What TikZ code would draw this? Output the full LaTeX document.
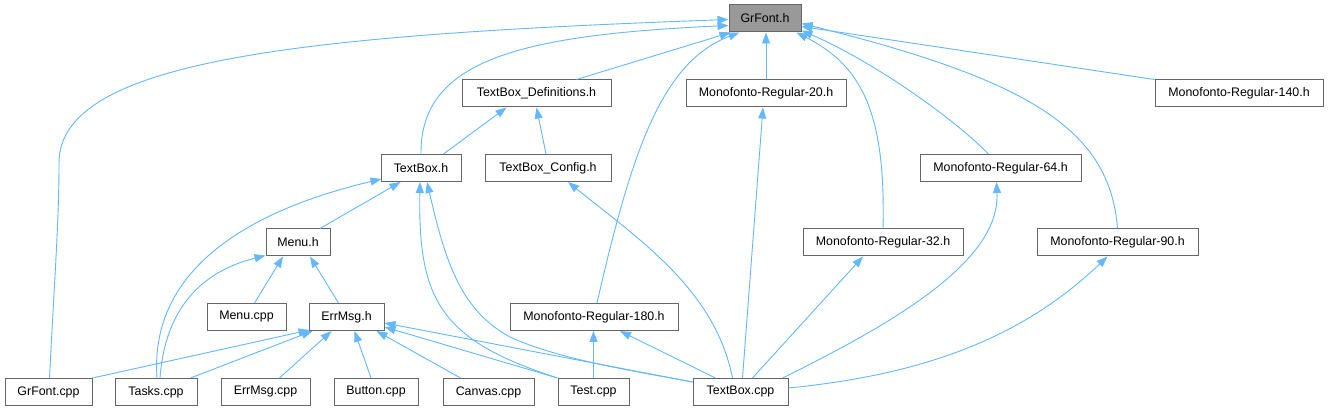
\documentclass[tikz,border=0pt]{standalone}
\usepackage{fontspec}
\setmainfont{Liberation Sans}
\usepackage{tikz}
\usetikzlibrary{arrows.meta, positioning, calc}
\definecolor{boxgray}{RGB}{102,102,102}
\definecolor{maingray}{RGB}{153,153,153}
\definecolor{deplink}{RGB}{99,184,255}
\tikzset{
  filebox/.style={rectangle, draw=boxgray, fill=white, line width=1pt,
                  minimum height=27pt, inner sep=0pt,
                  font=\fontsize{12.4}{14}\selectfont},
  mainbox/.style={filebox, fill=maingray},
  dep/.style={draw=deplink, line width=0.9pt,
              -{Triangle[length=11pt, width=8pt, fill=deplink]}},
}
\begin{document}
\begin{tikzpicture}[x=1pt, y=-1pt]
  \useasboundingbox[fill=white] (0,0) rectangle (1328,411);

  % header files
  \node[mainbox, minimum width=72]  (grfonth)  at (765,18.5)   {GrFont.h};
  \node[filebox, minimum width=149] (tbdef)    at (536.5,93.5) {TextBox\_Definitions.h};
  \node[filebox, minimum width=160] (mono20)   at (766,93.5)   {Monofonto-Regular-20.h};
  \node[filebox, minimum width=168] (mono140)  at (1239,93.5)  {Monofonto-Regular-140.h};
  \node[filebox, minimum width=80]  (textboxh) at (421,168)    {TextBox.h};
  \node[filebox, minimum width=126] (tbconf)   at (548,168)    {TextBox\_Config.h};
  \node[filebox, minimum width=161] (mono64)   at (1000.5,168) {Monofonto-Regular-64.h};
  \node[filebox, minimum width=64]  (menuh)    at (298,242.5)  {Menu.h};
  \node[filebox, minimum width=160] (mono32)   at (883,242.5)  {Monofonto-Regular-32.h};
  \node[filebox, minimum width=161] (mono90)   at (1117.5,242.5) {Monofonto-Regular-90.h};
  \node[filebox, minimum width=79]  (menucpp)  at (246.5,317)  {Menu.cpp};
  \node[filebox, minimum width=75]  (errmsgh)  at (346.5,317)  {ErrMsg.h};
  \node[filebox, minimum width=168] (mono180)  at (594,317)    {Monofonto-Regular-180.h};

  % source files
  \node[filebox, minimum width=87]  (grfontcpp)  at (48.5,392)  {GrFont.cpp};
  \node[filebox, minimum width=82]  (taskscpp)   at (156,392)   {Tasks.cpp};
  \node[filebox, minimum width=89]  (errmsgcpp)  at (265.5,392) {ErrMsg.cpp};
  \node[filebox, minimum width=84]  (buttoncpp)  at (376,392)   {Button.cpp};
  \node[filebox, minimum width=91]  (canvascpp)  at (488.5,392) {Canvas.cpp};
  \node[filebox, minimum width=71]  (testcpp)    at (593.5,392) {Test.cpp};
  \node[filebox, minimum width=95]  (textboxcpp) at (740.5,392) {TextBox.cpp};

  % into GrFont.h
  \draw[dep] ($(grfontcpp.north)+(1,0)$) .. controls (55,270) and (59,220) .. (59,163)
             .. controls (59,60) and (300,35) .. ($(grfonth.west)+(0,1)$);
  \draw[dep] (textboxh.north) .. controls (420,60) and (520,35) .. ($(grfonth.west)+(0,7)$);
  \draw[dep] ($(tbdef.north)+(40,0)$) -- ($(grfonth.south west)+(2,0)$);
  \draw[dep] ($(mono180.north)+(3,0)$) .. controls (632,150) and (662,62) .. ($(grfonth.south west)+(11,0)$);
  \draw[dep] (mono20.north) -- (mono20.north |- grfonth.south);
  \draw[dep] (mono32.north) .. controls (886,110) and (860,65) .. ($(grfonth.south east)+(-5,0)$);
  \draw[dep] ($(mono64.north)+(-12,0)$) .. controls (950,115) and (870,60) .. ($(grfonth.south east)+(0,-2)$);
  \draw[dep] (mono90.north) .. controls (1110,130) and (1030,80) .. ($(grfonth.east)+(0,5)$);
  \draw[dep] (mono140.north west) -- ($(grfonth.east)+(0,8)$);

  % into TextBox_Definitions.h
  \draw[dep] ($(textboxh.north east)+(-18,0)$) -- ($(tbdef.south)+(-30,0)$);
  \draw[dep] ($(tbconf.north)+(-2,0)$) -- (tbdef.south);

  % into TextBox.h
  \draw[dep] ($(menuh.north)+(22,0)$) -- ($(textboxh.south west)+(20,0)$);
  \draw[dep] ($(taskscpp.north)+(1,0)$) .. controls (150,280) and (230,215) .. ($(textboxh.south west)+(1,-3)$);
  \draw[dep] (testcpp.north west) .. controls (440,340) and (418,300) .. ($(textboxh.south)+(-1,0)$);
  \draw[dep] ($(textboxcpp.north west)+(0,4)$) .. controls (640,372) and (560,360) .. (510,337)
             .. controls (460,310) and (445,260) .. ($(textboxh.south)+(6,0)$);

  % into TextBox_Config.h and the fonts
  \draw[dep] ($(textboxcpp.north)+(-8,0)$) .. controls (715,290) and (640,240) .. ($(tbconf.south)+(20,0)$);
  \draw[dep] ($(textboxcpp.north)+(2,0)$) -- ($(mono20.south)+(-3,0)$);
  \draw[dep] ($(textboxcpp.north)+(12,0)$) -- ($(mono32.south)+(-20,0)$);
  \draw[dep] ($(textboxcpp.north east)+(-6,0)$) .. controls (900,320) and (1000,260) .. ($(mono64.south)+(-4,0)$);
  \draw[dep] ($(textboxcpp.east)+(0,-4)$) .. controls (920,375) and (1020,340) .. ($(mono90.south)+(-10,0)$);
  \draw[dep] ($(textboxcpp.north)+(-25,0)$) -- ($(mono180.south)+(26,0)$);
  \draw[dep] (testcpp.north) -- (testcpp.north |- mono180.south);

  % into Menu.h
  \draw[dep] ($(menucpp.north)+(8,0)$) -- ($(menuh.south)+(-15,0)$);
  \draw[dep] ($(errmsgh.north)+(-8,0)$) -- ($(menuh.south)+(12,0)$);
  \draw[dep] ($(taskscpp.north)+(4,0)$) .. controls (165,310) and (200,272) .. ($(menuh.south west)+(0,-1)$);

  % into ErrMsg.h
  \draw[dep] (grfontcpp.north east) -- ($(errmsgh.south west)+(1,-1)$);
  \draw[dep] ($(taskscpp.north east)+(-7,0)$) -- ($(errmsgh.south west)+(4,0)$);
  \draw[dep] ($(errmsgcpp.north)+(14,0)$) -- ($(errmsgh.south)+(-15,0)$);
  \draw[dep] ($(buttoncpp.north)+(-5,0)$) -- ($(errmsgh.south)+(8,0)$);
  \draw[dep] ($(canvascpp.north west)+(18,0)$) -- ($(errmsgh.south east)+(-8,0)$);
  \draw[dep] (testcpp.north west) -- ($(errmsgh.east)+(0,10)$);
  \draw[dep] ($(textboxcpp.north west)+(0,4)$) -- ($(errmsgh.east)+(0,6)$);
\end{tikzpicture}
\end{document}
